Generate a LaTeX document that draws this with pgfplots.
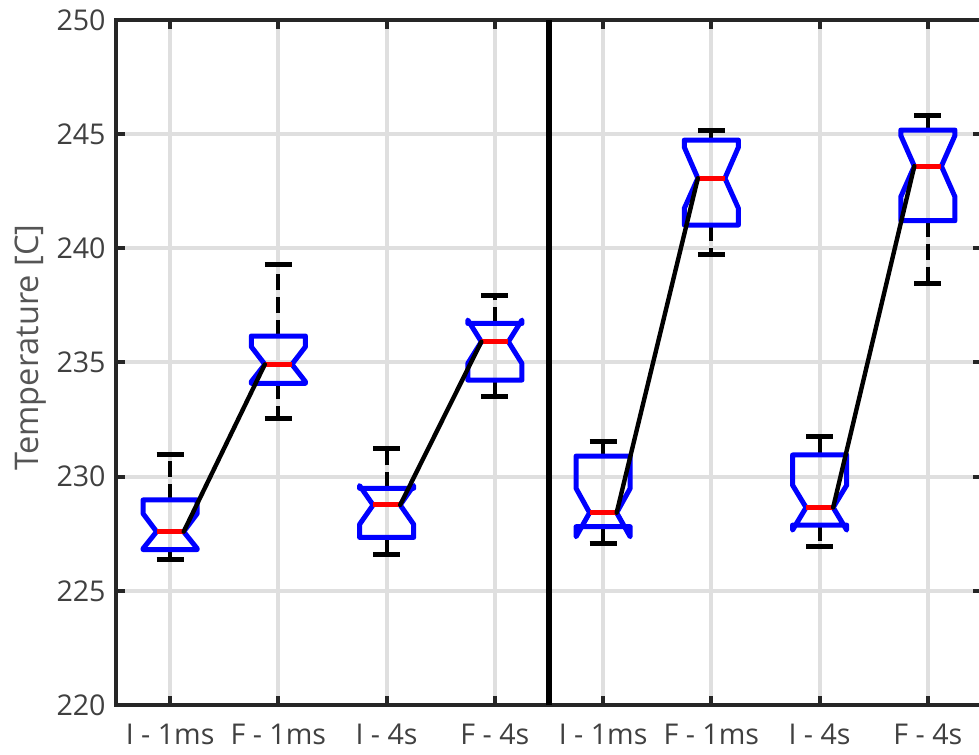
\documentclass[border=0pt]{standalone}
\usepackage{fontspec}
\setmainfont{Open Sans}
\usepackage{pgfplots}
\pgfplotsset{compat=1.18}

\definecolor{axisdark}{RGB}{38,38,38}
\definecolor{ticktext}{RGB}{64,64,64}
\definecolor{labeltext}{RGB}{85,85,85}
\definecolor{gridgray}{RGB}{223,223,223}
\definecolor{boxblue}{RGB}{0,0,255}
\definecolor{medred}{RGB}{255,0,0}

\tikzset{
  boxline/.style={boxblue, line width=2.5bp, line join=round, line cap=round},
  medline/.style={medred, line width=2.5bp},
  whisk/.style={black, line width=2bp, dash pattern=on 8bp off 3.5bp},
  capline/.style={black, line width=2.5bp},
  linkline/.style={black, line width=2.2bp, line cap=round},
}

% notched box: #1 position, #2 lower whisker, #3 Q1, #4 notch low,
% #5 median, #6 notch high, #7 Q3, #8 upper whisker
\newcommand{\nbox}[8]{%
  \pgfmathsetmacro\xl{#1-0.25}\pgfmathsetmacro\xr{#1+0.25}%
  \pgfmathsetmacro\xnl{#1-0.125}\pgfmathsetmacro\xnr{#1+0.125}%
  \edef\temp{%
    \noexpand\addplot[whisk] coordinates {(#1,#7) (#1,#8)};
    \noexpand\addplot[whisk] coordinates {(#1,#3) (#1,#2)};
    \noexpand\addplot[capline] coordinates {(\xnl,#8) (\xnr,#8)};
    \noexpand\addplot[capline] coordinates {(\xnl,#2) (\xnr,#2)};
    \noexpand\addplot[boxline] coordinates {(\xl,#3) (\xl,#4) (\xnl,#5) (\xl,#6) (\xl,#7) (\xr,#7) (\xr,#6) (\xnr,#5) (\xr,#4) (\xr,#3) (\xl,#3)};
    \noexpand\addplot[medline] coordinates {(\xnl,#5) (\xnr,#5)};
  }\temp
}
% line joining two medians
\newcommand{\mlink}[4]{%
  \pgfmathsetmacro\xa{#1+0.125}\pgfmathsetmacro\xb{#3-0.125}%
  \edef\temp{\noexpand\addplot[linkline] coordinates {(\xa,#2) (\xb,#4)};}\temp
}

\begin{document}
\begin{tikzpicture}
\begin{axis}[
  scale only axis,
  width=433bp, height=342.5bp,
  xmin=0.5, xmax=8.5, ymin=220, ymax=250,
  xtick={1,2,3,4,5,6,7,8},
  xticklabels={I - 1ms, F - 1ms, I - 4s, F - 4s, I - 1ms, F - 1ms, I - 4s, F - 4s},
  ytick={220,225,...,250},
  /pgf/number format/assume math mode=true,
  tick align=inside,
  major tick length=4.5bp,
  every tick/.style={axisdark, line width=2bp},
  axis line style={axisdark, line width=2bp},
  grid=major,
  major grid style={gridgray, line width=2bp},
  ticklabel style={font=\fontsize{14.3bp}{17bp}\selectfont, text=ticktext},
  xticklabel style={yshift=-6bp},
  yticklabel style={xshift=-1.7bp},
  ylabel={Temperature [C]},
  ylabel style={font=\fontsize{16.3bp}{19bp}\selectfont, text=labeltext,
    at={(axis description cs:-0.099,0.522)}, anchor=center},
  clip=false,
]
\nbox{1}{226.39}{226.81}{226.85}{227.59}{228.38}{228.98}{230.99}
\nbox{2}{232.55}{234.09}{234.16}{234.92}{235.69}{236.16}{239.30}
\nbox{3}{226.61}{227.34}{227.91}{228.76}{229.61}{229.49}{231.24}
\nbox{4}{233.53}{234.23}{234.96}{235.91}{236.86}{236.71}{237.92}
\nbox{5}{227.08}{227.81}{227.37}{228.42}{229.49}{230.90}{231.53}
\nbox{6}{239.71}{241.02}{241.75}{243.07}{244.43}{244.74}{245.18}
\nbox{7}{226.93}{227.88}{227.66}{228.65}{229.63}{230.95}{231.75}
\nbox{8}{238.47}{241.21}{242.26}{243.60}{244.94}{245.18}{245.81}
\mlink{1}{227.59}{2}{234.92}
\mlink{3}{228.76}{4}{235.91}
\mlink{5}{228.42}{6}{243.07}
\mlink{7}{228.65}{8}{243.60}
% separator between the two groups
\addplot[black, line width=3bp] coordinates {(4.5,220) (4.5,250)};
\end{axis}
\pgfresetboundingbox
\useasboundingbox (-58bp,-25bp) rectangle (431.5bp,352.5bp);
\end{tikzpicture}
\end{document}
